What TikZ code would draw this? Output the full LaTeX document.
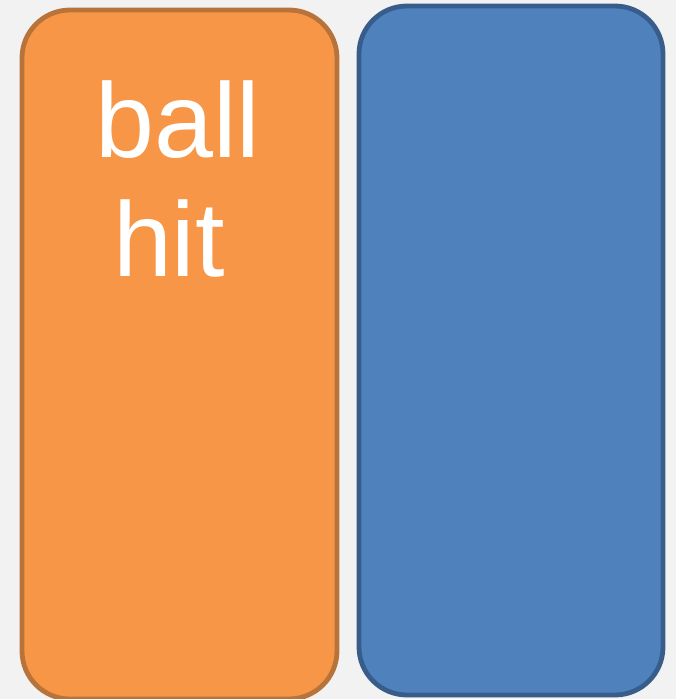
\documentclass[tikz,border=0pt]{standalone}
\usepackage{fontspec}
\setmainfont{Liberation Sans}
\definecolor{bgGray}{HTML}{F2F2F2}
\definecolor{ballFill}{HTML}{F79646}
\definecolor{ballLine}{HTML}{B8733A}
\definecolor{hitFill}{HTML}{4F81BD}
\definecolor{hitLine}{HTML}{385D8A}
\tikzset{
  panel/.style={line width=4.8pt, rounded corners=48pt},
  bigword/.style={text=white, inner sep=0pt, anchor=base,
    font=\fontsize{106}{120}\selectfont}
}
\begin{document}
\begin{tikzpicture}[x=1pt,y=-1pt]
            \fill[bgGray] (0,0) rectangle (676,699);
            \useasboundingbox (0,0) rectangle (676,699);
            \draw[panel, fill=ballFill, draw=ballLine] (22,10) rectangle (337,699);
            \draw[panel, fill=hitFill, draw=hitLine] (359,6) rectangle (663,695);

            \node[bigword] (ball) at (178,157) {ball};
            \node[bigword] (hit) at (169,276) {hit};
        \end{tikzpicture}
\end{document}
